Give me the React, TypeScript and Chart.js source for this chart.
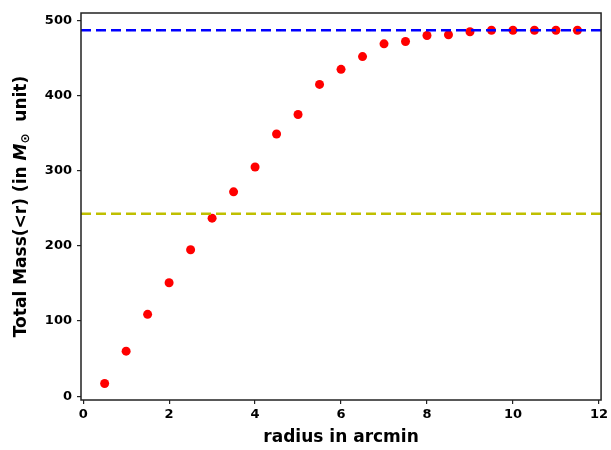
import React, { useEffect, useRef } from "react";
import { Chart, registerables } from "chart.js";

Chart.register(...registerables);

const radius = [0.5, 1, 1.5, 2, 2.5, 3, 3.5, 4, 4.5, 5, 5.5, 6, 6.5, 7, 7.5, 8, 8.5, 9, 9.5, 10, 10.5, 11, 11.5];
const mass = [17, 60, 109, 151, 195, 237, 272, 305, 349, 375, 415, 435, 452, 469, 472, 480, 481, 485, 487, 487, 487, 487, 487];
const totalMass = 487;
const halfMass = 243;
const xTicks = [0, 2, 4, 6, 8, 10, 12];
const yTicks = [0, 100, 200, 300, 400, 500];
const xRange = [-0.05, 12.05];
const yRange = [-5, 510];

const FONT = "'DejaVu Sans', sans-serif";

const framePlugin = {
  id: "frame",
  afterDatasetsDraw(chart: any) {
    const { ctx, chartArea } = chart;
    ctx.save();
    ctx.strokeStyle = "#222";
    ctx.lineWidth = 1.5;
    ctx.strokeRect(chartArea.left, chartArea.top, chartArea.right - chartArea.left, chartArea.bottom - chartArea.top);
    ctx.restore();
  },
  afterDraw(chart: any) {
    const { ctx, chartArea } = chart;
    const parts = [
      { t: "Total Mass(<r) (in ", f: `bold 17px ${FONT}`, dy: 0 },
      { t: "M", f: `italic bold 17px ${FONT}`, dy: 0 },
      { t: "⊙", f: `bold 12px ${FONT}`, dy: 4 },
      { t: "  unit)", f: `bold 17px ${FONT}`, dy: 0 },
    ];
    ctx.save();
    let total = 0;
    for (const p of parts) {
      ctx.font = p.f;
      total += ctx.measureText(p.t).width;
    }
    const cy = (chartArea.top + chartArea.bottom) / 2;
    ctx.translate(22, cy);
    ctx.rotate(-Math.PI / 2);
    ctx.fillStyle = "#000";
    ctx.textBaseline = "middle";
    let x = -total / 2;
    for (const p of parts) {
      ctx.font = p.f;
      ctx.fillText(p.t, x, p.dy);
      x += ctx.measureText(p.t).width;
    }
    ctx.restore();
  },
};

export default function App() {
  const ref = useRef<HTMLCanvasElement | null>(null);
  useEffect(() => {
    const chart = new Chart(ref.current as HTMLCanvasElement, {
      type: "scatter",
      data: {
        datasets: [
          {
            type: "line",
            data: [
              { x: xRange[0], y: totalMass },
              { x: xRange[1], y: totalMass },
            ],
            borderColor: "#0000ff",
            borderWidth: 2.5,
            borderDash: [10, 5],
            pointRadius: 0,
            fill: false,
          },
          {
            type: "line",
            data: [
              { x: xRange[0], y: halfMass },
              { x: xRange[1], y: halfMass },
            ],
            borderColor: "#bfbf00",
            borderWidth: 2.5,
            borderDash: [10, 5],
            pointRadius: 0,
            fill: false,
          },
          {
            data: radius.map((r, i) => ({ x: r, y: mass[i] })),
            backgroundColor: "#ff0000",
            borderColor: "#ff0000",
            pointRadius: 4.5,
            borderWidth: 0,
          },
        ],
      } as any,
      options: {
        animation: false,
        responsive: false,
        maintainAspectRatio: false,
        layout: { padding: { left: 0, top: 13, right: 8, bottom: 0 } },
        plugins: { legend: { display: false }, tooltip: { enabled: false } },
        scales: {
          x: {
            type: "linear",
            min: xRange[0],
            max: xRange[1],
            afterBuildTicks: (s: any) => {
              s.ticks = xTicks.map((v) => ({ value: v }));
            },
            afterFit: (s: any) => {
              s.height = 50;
            },
            grid: { drawOnChartArea: false, drawTicks: true, tickLength: 4, color: "#222", lineWidth: 1.2 },
            border: { display: false },
            ticks: { color: "#000", font: { family: FONT, size: 13, weight: "bold" }, padding: 3, maxRotation: 0 },
            title: { display: true, text: "radius in arcmin", color: "#000", font: { family: FONT, size: 17, weight: "bold" }, padding: { top: 2, bottom: 2 } },
          },
          y: {
            type: "linear",
            min: yRange[0],
            max: yRange[1],
            afterBuildTicks: (s: any) => {
              s.ticks = yTicks.map((v) => ({ value: v }));
            },
            afterFit: (s: any) => {
              s.width = 81;
            },
            grid: { drawOnChartArea: false, drawTicks: true, tickLength: 4, color: "#222", lineWidth: 1.2 },
            border: { display: false },
            ticks: { color: "#000", font: { family: FONT, size: 13, weight: "bold" }, padding: 5 },
          },
        },
      } as any,
      plugins: [framePlugin],
    });
    return () => chart.destroy();
  }, []);
  return (
    <div style={{ position: "fixed", left: 0, top: 0, width: 611, height: 450, background: "#fff" }}>
      <canvas ref={ref} width={611} height={450} style={{ width: 611, height: 450 }} />
    </div>
  );
}
